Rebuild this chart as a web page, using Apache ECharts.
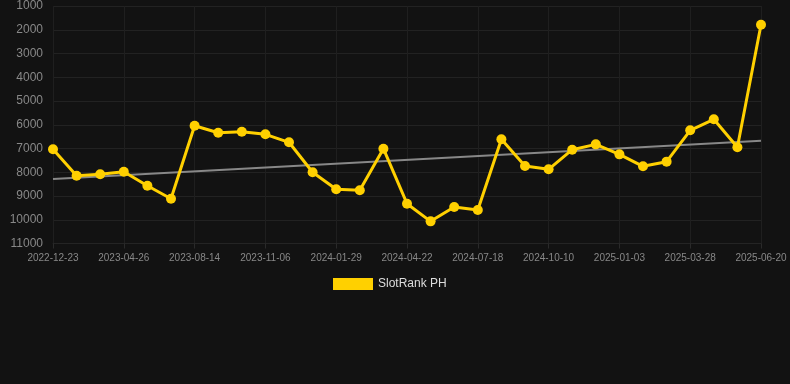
<!DOCTYPE html>
<html>
<head>
<meta charset="utf-8">
<script src="https://cdn.jsdelivr.net/npm/echarts@6/dist/echarts.min.js"></script>
<style>
html,body{margin:0;padding:0;background:#121212;}
#chart{width:790px;height:384px;}
</style>
</head>
<body>
<div id="chart"></div>
<script>
const categories = [
  '2022-12-23','2023-02-03','2023-03-16','2023-04-26','2023-06-01','2023-07-10',
  '2023-08-14','2023-09-11','2023-10-09','2023-11-06','2023-12-04','2024-01-01',
  '2024-01-29','2024-02-26','2024-03-25','2024-04-22','2024-05-20','2024-06-18',
  '2024-07-18','2024-08-15','2024-09-12','2024-10-10','2024-11-07','2024-12-06',
  '2025-01-03','2025-01-31','2025-02-28','2025-03-28','2025-04-25','2025-05-23',
  '2025-06-20'
];
const rankValues = [
  7030, 8145, 8086, 7977, 8566, 9114,
  6040, 6335, 6293, 6402, 6739, 8002,
  8718, 8760, 7008, 9324, 10067, 9463,
  9589, 6613, 7737, 7876, 7050, 6825,
  7246, 7751, 7554, 6235, 5772, 6949,
  1786
];
const trendStart = 8284;
const trendEnd = 6672;
const yTicks = { min: 1000, max: 11000, interval: 1000 };

const trendData = categories.map((c, i) => i === 0 ? trendStart : (i === categories.length - 1 ? trendEnd : '-'));

const chart = echarts.init(document.getElementById('chart'), null, { renderer: 'canvas' });
chart.setOption({
  backgroundColor: '#121212',
  animation: false,
  grid: { left: 53, right: 29, top: 6, bottom: 140.5, containLabel: false },
  legend: {
    data: [{ name: 'SlotRank PH', icon: 'rect' }],
    top: 273,
    left: 328,
    itemWidth: 40,
    itemHeight: 12,
    itemGap: 10,
    textStyle: { color: '#dddddd', fontSize: 12, fontFamily: 'Liberation Sans, Arial, sans-serif' }
  },
  xAxis: {
    type: 'category',
    data: categories,
    boundaryGap: false,
    axisLine: { show: true, lineStyle: { color: '#242424' } },
    axisTick: { show: true, interval: 2, lineStyle: { color: '#2a2a2a' } },
    axisLabel: { interval: 2, color: '#888888', fontSize: 10, margin: 10, fontFamily: 'Liberation Sans, Arial, sans-serif' },
    splitLine: { show: true, interval: 2, lineStyle: { color: '#1f1f1f', width: 1 } }
  },
  yAxis: {
    type: 'value',
    inverse: true,
    min: yTicks.min,
    max: yTicks.max,
    interval: yTicks.interval,
    axisLine: { show: false },
    axisTick: { show: false },
    axisLabel: { color: '#888888', fontSize: 12, margin: 10, formatter: v => String(v), fontFamily: 'Liberation Sans, Arial, sans-serif' },
    splitLine: { show: true, lineStyle: { color: '#222222', width: 1 } }
  },
  series: [
    {
      name: 'Trend',
      type: 'line',
      data: trendData,
      connectNulls: true,
      symbol: 'none',
      lineStyle: { color: '#888888', width: 2 },
      z: 1,
      silent: true
    },
    {
      name: 'SlotRank PH',
      type: 'line',
      data: rankValues,
      symbol: 'circle',
      symbolSize: 10,
      itemStyle: { color: '#FFD000' },
      lineStyle: { color: '#FFD000', width: 3 },
      z: 2
    }
  ]
});
</script>
</body>
</html>
